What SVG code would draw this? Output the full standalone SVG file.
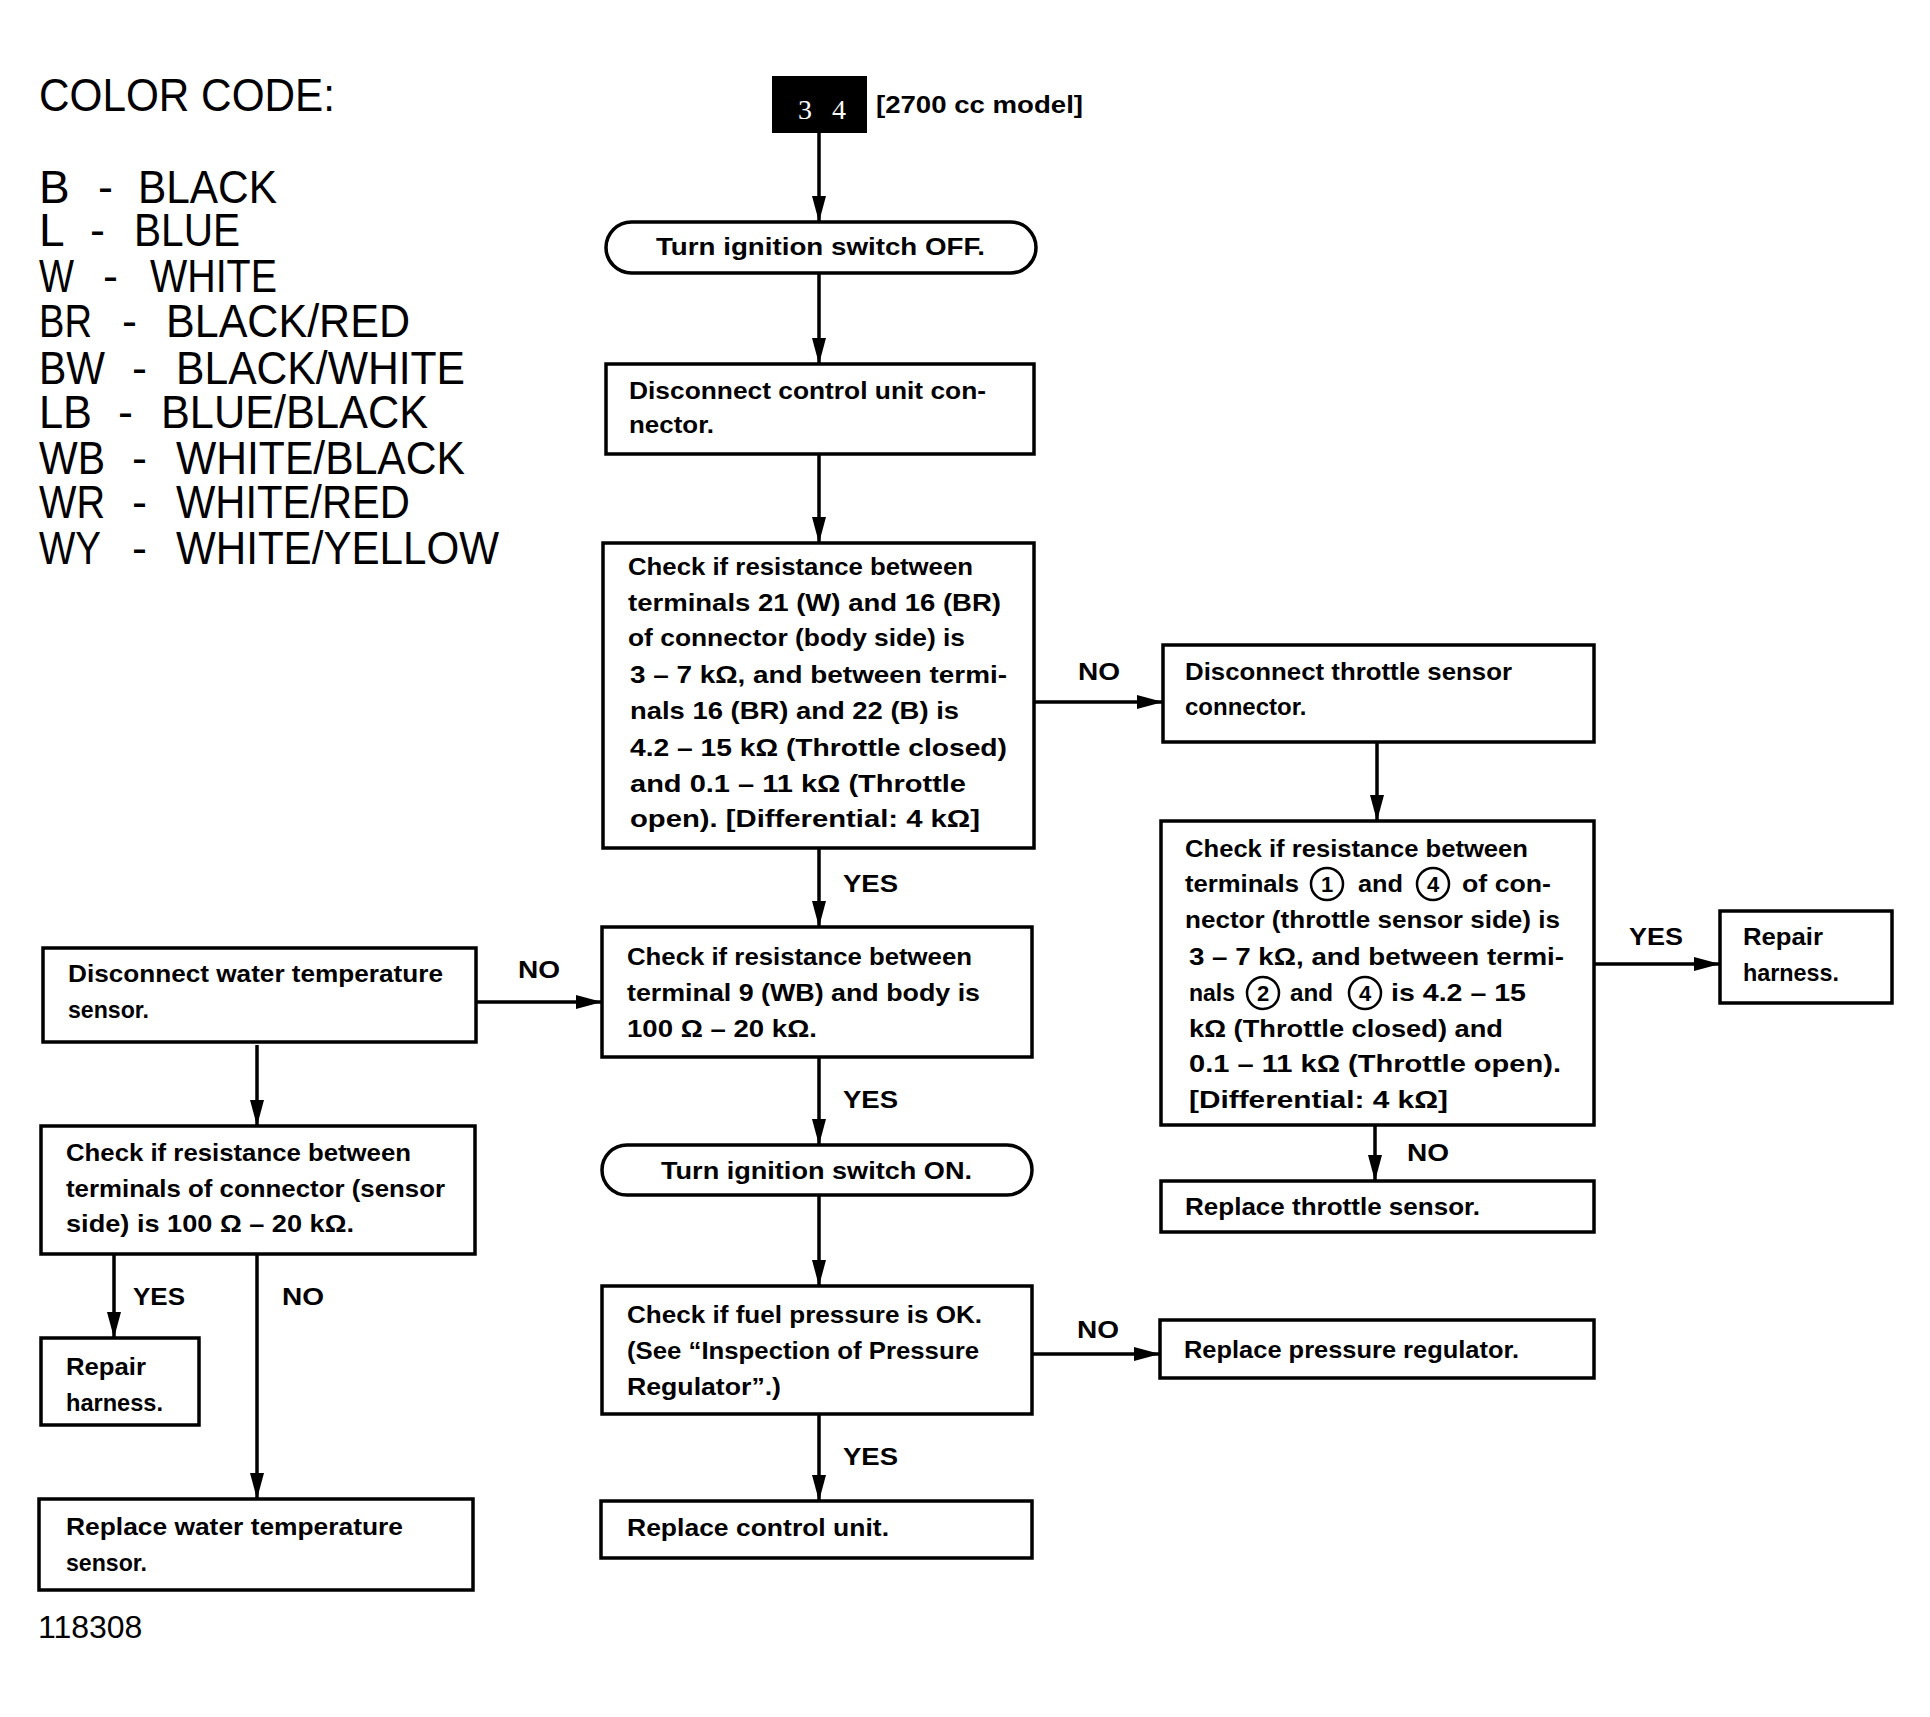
<svg xmlns="http://www.w3.org/2000/svg" width="1930" height="1717" viewBox="0 0 1930 1717">
<style>
.box{fill:#fff;stroke:#000;stroke-width:3.5}
.t{font-family:"Liberation Sans",Arial,sans-serif;font-weight:bold;font-size:24px;fill:#000}
.lbl{font-family:"Liberation Sans",Arial,sans-serif;font-weight:bold;font-size:24px;fill:#000}
.leg{font-family:"Liberation Sans",Arial,sans-serif;font-size:46px;fill:#000}
.conn{stroke:#000;stroke-width:3.5;fill:none}
.circ{fill:none;stroke:#000;stroke-width:2.5}
.dg{font-family:"Liberation Sans",Arial,sans-serif;font-weight:bold;font-size:22px;fill:#000;text-anchor:middle}
</style>
<defs>
<marker id="ah" markerUnits="userSpaceOnUse" markerWidth="28" markerHeight="16" refX="26" refY="7" orient="auto">
<path d="M0,0 L26,7 L0,14 z" fill="#000"/>
</marker>
</defs>
<rect x="0" y="0" width="1930" height="1717" fill="#fff"/>

<g id="legend">
<text class="leg" x="39" y="111" textLength="296" lengthAdjust="spacingAndGlyphs">COLOR CODE:</text>
<text class="leg" x="39" y="203">B</text><text class="leg" x="98" y="203" textLength="15" lengthAdjust="spacingAndGlyphs">-</text><text class="leg" x="138" y="203" textLength="139" lengthAdjust="spacingAndGlyphs">BLACK</text>
<text class="leg" x="39" y="246">L</text><text class="leg" x="90" y="246" textLength="15" lengthAdjust="spacingAndGlyphs">-</text><text class="leg" x="134" y="246" textLength="106" lengthAdjust="spacingAndGlyphs">BLUE</text>
<text class="leg" x="39" y="292" textLength="35" lengthAdjust="spacingAndGlyphs">W</text><text class="leg" x="103" y="292" textLength="15" lengthAdjust="spacingAndGlyphs">-</text><text class="leg" x="150" y="292" textLength="127" lengthAdjust="spacingAndGlyphs">WHITE</text>
<text class="leg" x="39" y="337" textLength="53" lengthAdjust="spacingAndGlyphs">BR</text><text class="leg" x="122" y="337" textLength="15" lengthAdjust="spacingAndGlyphs">-</text><text class="leg" x="166" y="337" textLength="244" lengthAdjust="spacingAndGlyphs">BLACK/RED</text>
<text class="leg" x="39" y="384" textLength="66" lengthAdjust="spacingAndGlyphs">BW</text><text class="leg" x="132" y="384" textLength="15" lengthAdjust="spacingAndGlyphs">-</text><text class="leg" x="176" y="384" textLength="289" lengthAdjust="spacingAndGlyphs">BLACK/WHITE</text>
<text class="leg" x="39" y="428" textLength="53" lengthAdjust="spacingAndGlyphs">LB</text><text class="leg" x="118" y="428" textLength="15" lengthAdjust="spacingAndGlyphs">-</text><text class="leg" x="161" y="428" textLength="267" lengthAdjust="spacingAndGlyphs">BLUE/BLACK</text>
<text class="leg" x="39" y="474" textLength="66" lengthAdjust="spacingAndGlyphs">WB</text><text class="leg" x="132" y="474" textLength="15" lengthAdjust="spacingAndGlyphs">-</text><text class="leg" x="176" y="474" textLength="289" lengthAdjust="spacingAndGlyphs">WHITE/BLACK</text>
<text class="leg" x="39" y="518" textLength="66" lengthAdjust="spacingAndGlyphs">WR</text><text class="leg" x="132" y="518" textLength="15" lengthAdjust="spacingAndGlyphs">-</text><text class="leg" x="176" y="518" textLength="234" lengthAdjust="spacingAndGlyphs">WHITE/RED</text>
<text class="leg" x="39" y="564" textLength="62" lengthAdjust="spacingAndGlyphs">WY</text><text class="leg" x="132" y="564" textLength="15" lengthAdjust="spacingAndGlyphs">-</text><text class="leg" x="176" y="564" textLength="323" lengthAdjust="spacingAndGlyphs">WHITE/YELLOW</text>
</g>

<text x="38" y="1638" style="font-family:'Liberation Sans',Arial,sans-serif;font-size:32px;fill:#000">118308</text>

<g id="connectors">
<line class="conn" x1="819" y1="133" x2="819" y2="222" marker-end="url(#ah)"/>
<line class="conn" x1="819" y1="273" x2="819" y2="364" marker-end="url(#ah)"/>
<line class="conn" x1="819" y1="454" x2="819" y2="543" marker-end="url(#ah)"/>
<line class="conn" x1="1034" y1="702" x2="1163" y2="702" marker-end="url(#ah)"/>
<line class="conn" x1="1377" y1="742" x2="1377" y2="821" marker-end="url(#ah)"/>
<line class="conn" x1="1594" y1="964" x2="1720" y2="964" marker-end="url(#ah)"/>
<line class="conn" x1="1375" y1="1125" x2="1375" y2="1181" marker-end="url(#ah)"/>
<line class="conn" x1="819" y1="848" x2="819" y2="927" marker-end="url(#ah)"/>
<line class="conn" x1="476" y1="1002" x2="602" y2="1002" marker-end="url(#ah)"/>
<line class="conn" x1="257" y1="1045" x2="257" y2="1126" marker-end="url(#ah)"/>
<line class="conn" x1="114" y1="1254" x2="114" y2="1338" marker-end="url(#ah)"/>
<line class="conn" x1="257" y1="1254" x2="257" y2="1499" marker-end="url(#ah)"/>
<line class="conn" x1="819" y1="1057" x2="819" y2="1145" marker-end="url(#ah)"/>
<line class="conn" x1="819" y1="1195" x2="819" y2="1286" marker-end="url(#ah)"/>
<line class="conn" x1="1032" y1="1354" x2="1160" y2="1354" marker-end="url(#ah)"/>
<line class="conn" x1="819" y1="1414" x2="819" y2="1501" marker-end="url(#ah)"/>
<text class="lbl" x="1078" y="680" textLength="42" lengthAdjust="spacingAndGlyphs">NO</text>
<text class="lbl" x="1629" y="945" textLength="54" lengthAdjust="spacingAndGlyphs">YES</text>
<text class="lbl" x="1407" y="1161" textLength="42" lengthAdjust="spacingAndGlyphs">NO</text>
<text class="lbl" x="843" y="892" textLength="55" lengthAdjust="spacingAndGlyphs">YES</text>
<text class="lbl" x="518" y="978" textLength="42" lengthAdjust="spacingAndGlyphs">NO</text>
<text class="lbl" x="133" y="1305" textLength="52" lengthAdjust="spacingAndGlyphs">YES</text>
<text class="lbl" x="282" y="1305" textLength="42" lengthAdjust="spacingAndGlyphs">NO</text>
<text class="lbl" x="843" y="1108" textLength="55" lengthAdjust="spacingAndGlyphs">YES</text>
<text class="lbl" x="1077" y="1338" textLength="42" lengthAdjust="spacingAndGlyphs">NO</text>
<text class="lbl" x="843" y="1465" textLength="55" lengthAdjust="spacingAndGlyphs">YES</text>
</g>

<g id="start">
<rect x="772" y="76" width="95" height="57" fill="#000"/>
<text x="798" y="119" textLength="48" lengthAdjust="spacing" style="font-family:'Liberation Serif',serif;font-size:28px;fill:#fff">3 4</text>
<text class="t" x="876" y="113" textLength="207" lengthAdjust="spacingAndGlyphs">[2700 cc model]</text>
</g>

<g id="n_off">
<rect class="box" x="606" y="222" width="430" height="51" rx="25.5"/>
<text class="t" x="656" y="255" textLength="329" lengthAdjust="spacingAndGlyphs">Turn ignition switch OFF.</text>
</g>

<g id="n_disc_cu">
<rect class="box" x="606" y="364" width="428" height="90"/>
<text class="t" x="629" y="399" textLength="357" lengthAdjust="spacingAndGlyphs">Disconnect control unit con-</text>
<text class="t" x="629" y="433" textLength="85" lengthAdjust="spacingAndGlyphs">nector.</text>
</g>

<g id="n_check_tps_body">
<rect class="box" x="603" y="543" width="431" height="305"/>
<text class="t" x="628" y="575" textLength="345" lengthAdjust="spacingAndGlyphs">Check if resistance between</text>
<text class="t" x="628" y="611" textLength="373" lengthAdjust="spacingAndGlyphs">terminals 21 (W) and 16 (BR)</text>
<text class="t" x="628" y="646" textLength="337" lengthAdjust="spacingAndGlyphs">of connector (body side) is</text>
<text class="t" x="630" y="683" textLength="377" lengthAdjust="spacingAndGlyphs">3 – 7 kΩ, and between termi-</text>
<text class="t" x="630" y="719" textLength="329" lengthAdjust="spacingAndGlyphs">nals 16 (BR) and 22 (B) is</text>
<text class="t" x="630" y="756" textLength="377" lengthAdjust="spacingAndGlyphs">4.2 – 15 kΩ (Throttle closed)</text>
<text class="t" x="630" y="792" textLength="336" lengthAdjust="spacingAndGlyphs">and 0.1 – 11 kΩ (Throttle</text>
<text class="t" x="630" y="827" textLength="350" lengthAdjust="spacingAndGlyphs">open). [Differential:  4 kΩ]</text>
</g>

<g id="n_disc_tps">
<rect class="box" x="1163" y="645" width="431" height="97"/>
<text class="t" x="1185" y="680" textLength="327" lengthAdjust="spacingAndGlyphs">Disconnect throttle sensor</text>
<text class="t" x="1185" y="715">connector.</text>
</g>

<g id="n_check_tps_sensor">
<rect class="box" x="1161" y="821" width="433" height="304"/>
<text class="t" x="1185" y="857" textLength="343" lengthAdjust="spacingAndGlyphs">Check if resistance between</text>
<text class="t" x="1185" y="892" textLength="114" lengthAdjust="spacingAndGlyphs">terminals</text>
<circle class="circ" cx="1327" cy="884" r="16"/><text class="dg" x="1327" y="892">1</text>
<text class="t" x="1358" y="892" textLength="45" lengthAdjust="spacingAndGlyphs">and</text>
<circle class="circ" cx="1433" cy="884" r="16"/><text class="dg" x="1433" y="892">4</text>
<text class="t" x="1462" y="892" textLength="89" lengthAdjust="spacingAndGlyphs">of con-</text>
<text class="t" x="1185" y="928" textLength="375" lengthAdjust="spacingAndGlyphs">nector (throttle sensor side) is</text>
<text class="t" x="1189" y="965" textLength="375" lengthAdjust="spacingAndGlyphs">3 – 7 kΩ, and between termi-</text>
<text class="t" x="1189" y="1001" textLength="46" lengthAdjust="spacingAndGlyphs">nals</text>
<circle class="circ" cx="1263" cy="993" r="16"/><text class="dg" x="1263" y="1001">2</text>
<text class="t" x="1290" y="1001" textLength="43" lengthAdjust="spacingAndGlyphs">and</text>
<circle class="circ" cx="1365" cy="993" r="16"/><text class="dg" x="1365" y="1001">4</text>
<text class="t" x="1391" y="1001" textLength="135" lengthAdjust="spacingAndGlyphs">is 4.2 – 15</text>
<text class="t" x="1189" y="1037" textLength="314" lengthAdjust="spacingAndGlyphs">kΩ (Throttle closed) and</text>
<text class="t" x="1189" y="1072" textLength="372" lengthAdjust="spacingAndGlyphs">0.1 – 11 kΩ (Throttle open).</text>
<text class="t" x="1189" y="1108" textLength="259" lengthAdjust="spacingAndGlyphs">[Differential:  4 kΩ]</text>
</g>

<g id="n_repair_r">
<rect class="box" x="1720" y="911" width="172" height="92"/>
<text class="t" x="1743" y="945" textLength="80" lengthAdjust="spacingAndGlyphs">Repair</text>
<text class="t" x="1743" y="981" textLength="96" lengthAdjust="spacingAndGlyphs">harness.</text>
</g>

<g id="n_replace_tps">
<rect class="box" x="1161" y="1181" width="433" height="51"/>
<text class="t" x="1185" y="1215" textLength="295" lengthAdjust="spacingAndGlyphs">Replace throttle sensor.</text>
</g>

<g id="n_check_t9">
<rect class="box" x="602" y="927" width="430" height="130"/>
<text class="t" x="627" y="965" textLength="345" lengthAdjust="spacingAndGlyphs">Check if resistance between</text>
<text class="t" x="627" y="1001" textLength="353" lengthAdjust="spacingAndGlyphs">terminal 9 (WB) and body is</text>
<text class="t" x="627" y="1037" textLength="190" lengthAdjust="spacingAndGlyphs">100 Ω – 20 kΩ.</text>
</g>

<g id="n_disc_wt">
<rect class="box" x="43" y="948" width="433" height="94"/>
<text class="t" x="68" y="982" textLength="375" lengthAdjust="spacingAndGlyphs">Disconnect water temperature</text>
<text class="t" x="68" y="1018" textLength="81" lengthAdjust="spacingAndGlyphs">sensor.</text>
</g>

<g id="n_check_wt">
<rect class="box" x="41" y="1126" width="434" height="128"/>
<text class="t" x="66" y="1161" textLength="345" lengthAdjust="spacingAndGlyphs">Check if resistance between</text>
<text class="t" x="66" y="1197" textLength="379" lengthAdjust="spacingAndGlyphs">terminals of connector (sensor</text>
<text class="t" x="66" y="1232" textLength="288" lengthAdjust="spacingAndGlyphs">side) is 100 Ω – 20 kΩ.</text>
</g>

<g id="n_repair_l">
<rect class="box" x="41" y="1338" width="158" height="87"/>
<text class="t" x="66" y="1375" textLength="80" lengthAdjust="spacingAndGlyphs">Repair</text>
<text class="t" x="66" y="1411" textLength="97" lengthAdjust="spacingAndGlyphs">harness.</text>
</g>

<g id="n_replace_wt">
<rect class="box" x="39" y="1499" width="434" height="91"/>
<text class="t" x="66" y="1535" textLength="337" lengthAdjust="spacingAndGlyphs">Replace water temperature</text>
<text class="t" x="66" y="1571" textLength="81" lengthAdjust="spacingAndGlyphs">sensor.</text>
</g>

<g id="n_on">
<rect class="box" x="602" y="1145" width="430" height="50" rx="25"/>
<text class="t" x="661" y="1179" textLength="311" lengthAdjust="spacingAndGlyphs">Turn ignition switch ON.</text>
</g>

<g id="n_fuel">
<rect class="box" x="602" y="1286" width="430" height="128"/>
<text class="t" x="627" y="1323" textLength="355" lengthAdjust="spacingAndGlyphs">Check if fuel pressure is OK.</text>
<text class="t" x="627" y="1359" textLength="352" lengthAdjust="spacingAndGlyphs">(See “Inspection of Pressure</text>
<text class="t" x="627" y="1395" textLength="154" lengthAdjust="spacingAndGlyphs">Regulator”.)</text>
</g>

<g id="n_replace_pr">
<rect class="box" x="1160" y="1320" width="434" height="58"/>
<text class="t" x="1184" y="1358" textLength="335" lengthAdjust="spacingAndGlyphs">Replace pressure regulator.</text>
</g>

<g id="n_replace_cu">
<rect class="box" x="601" y="1501" width="431" height="57"/>
<text class="t" x="627" y="1536" textLength="262" lengthAdjust="spacingAndGlyphs">Replace control unit.</text>
</g>
</svg>
